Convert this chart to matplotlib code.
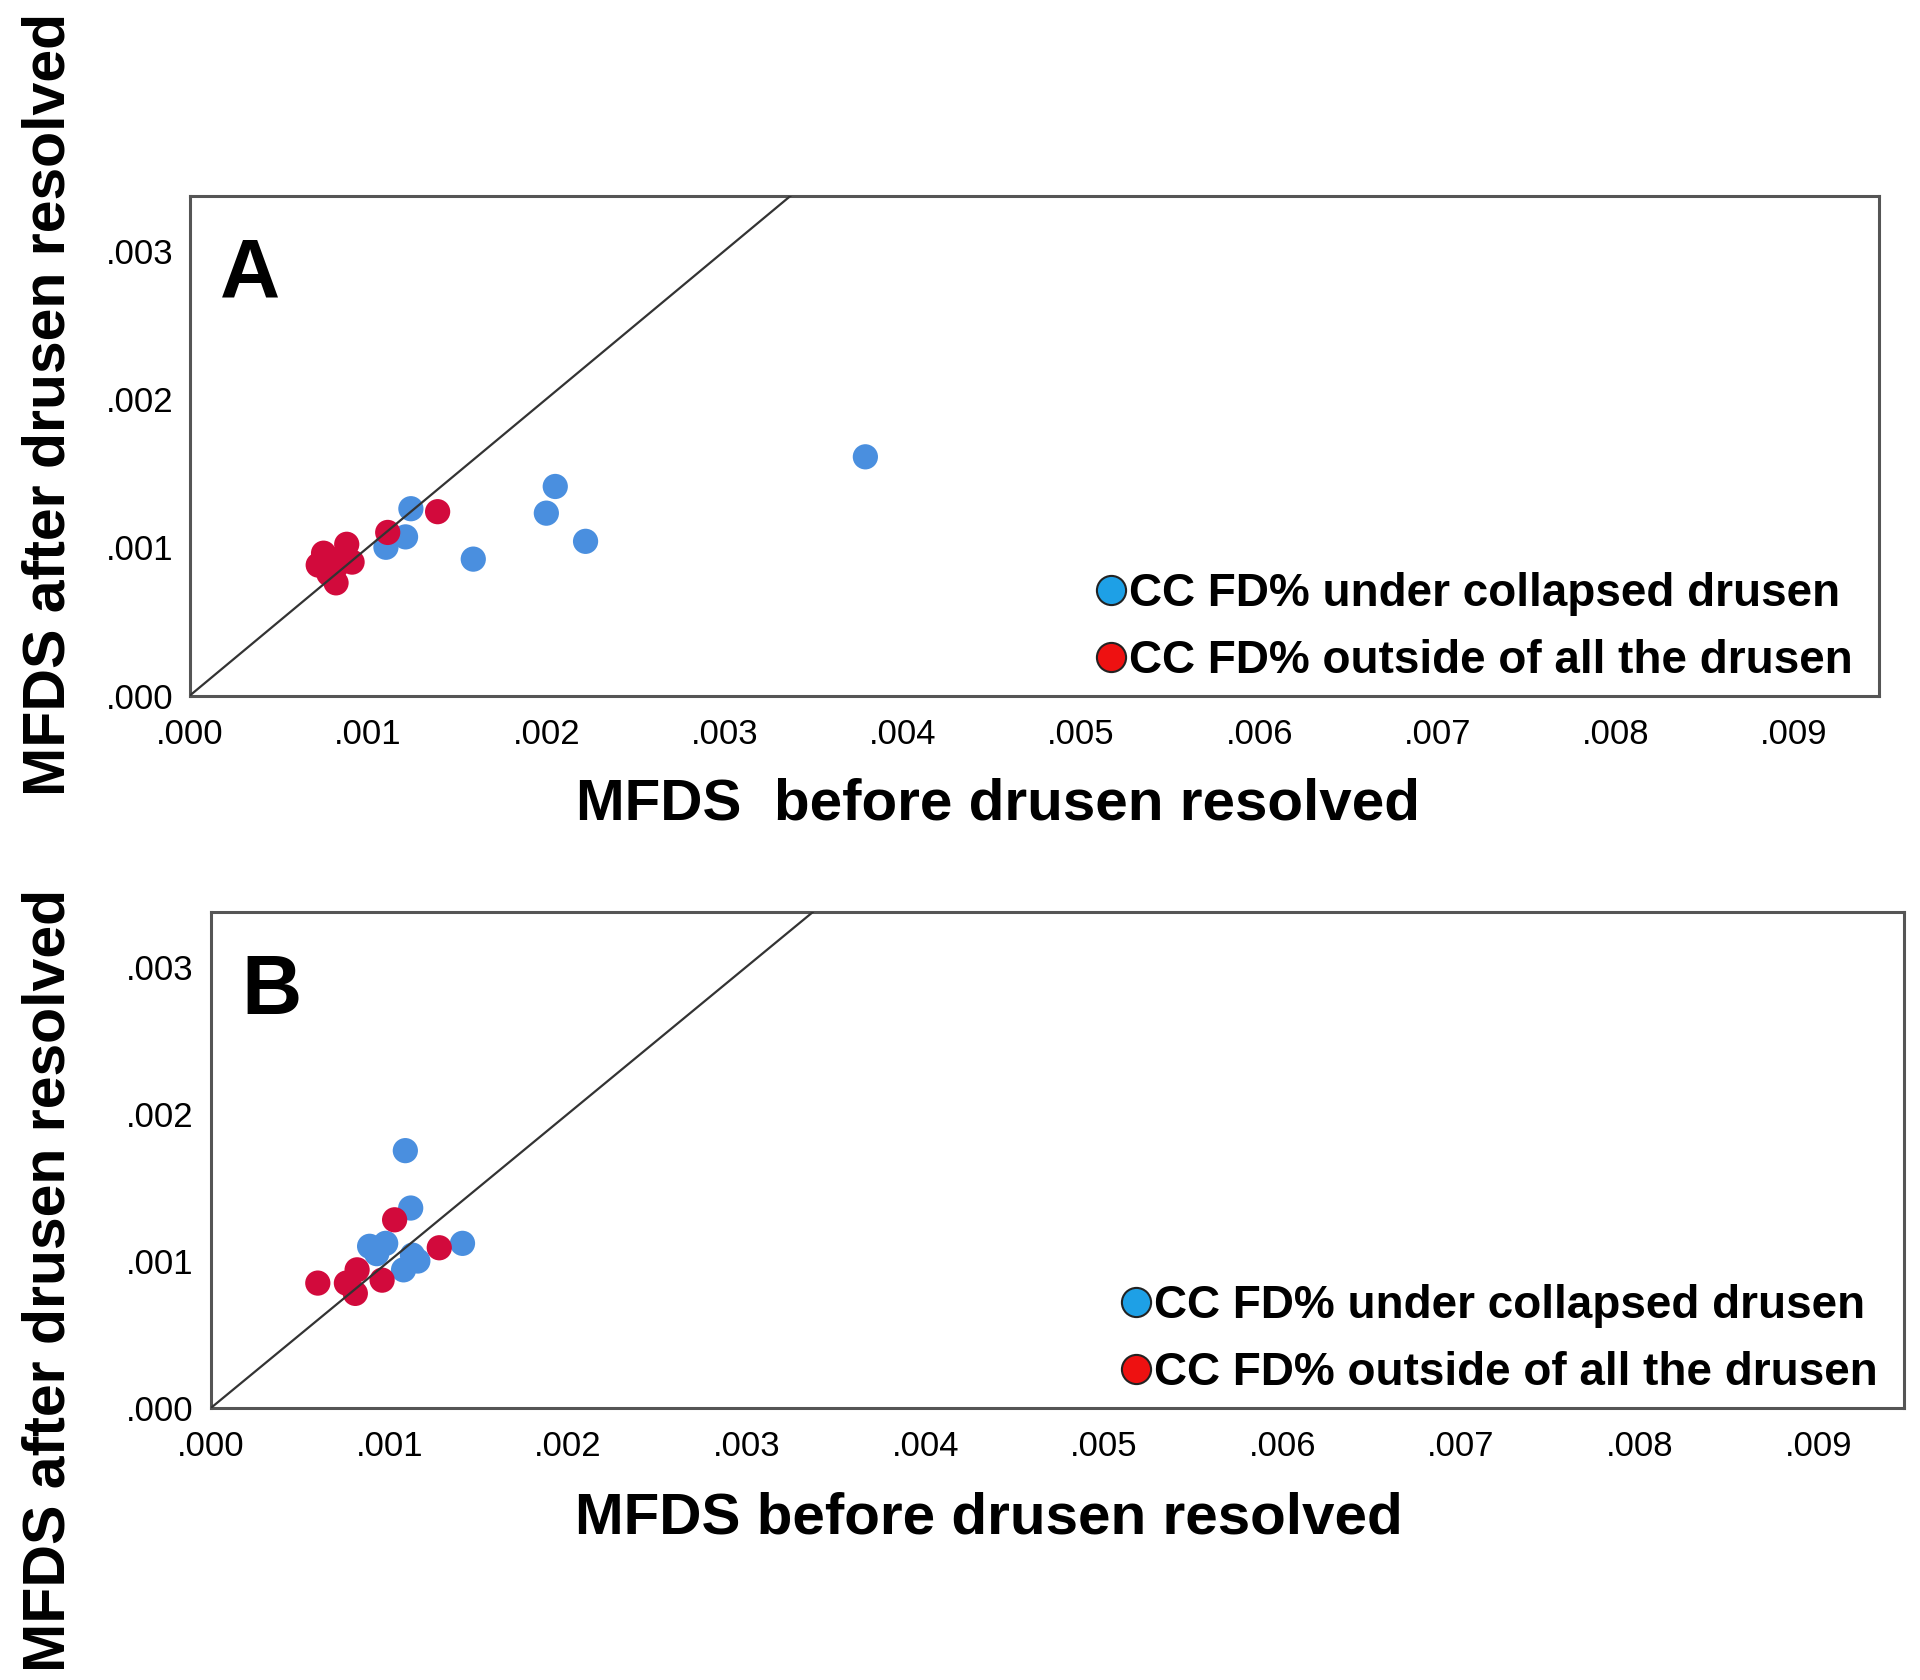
import matplotlib
matplotlib.use('Agg')
import matplotlib.pyplot as plt
from matplotlib.lines import Line2D

# ---- data ----
# panel A
a_blue_x=[0.00379,0.00205,0.00200,0.00222,0.00159,0.00124,0.00121,0.00110]
a_blue_y=[0.00161,0.00141,0.00123,0.00104,0.00092,0.00126,0.00107,0.00100]
a_red_x=[0.00139,0.00111,0.00075,0.00088,0.00091,0.00082,0.00072,0.00082,0.00078,0.00086]
a_red_y=[0.00124,0.00110,0.00096,0.00102,0.00090,0.00076,0.00088,0.00087,0.00082,0.00094]
# panel B
b_blue_x=[0.00109,0.00112,0.00141,0.00089,0.00098,0.00113,0.00108,0.00093,0.00116]
b_blue_y=[0.00175,0.00136,0.00112,0.00110,0.00112,0.00104,0.00094,0.00105,0.00100]
b_red_x=[0.00103,0.00128,0.00060,0.00082,0.00076,0.00096,0.00081]
b_red_y=[0.00128,0.00109,0.00085,0.00094,0.00085,0.00087,0.00078]

x_ticks=[0.000,0.001,0.002,0.003,0.004,0.005,0.006,0.007,0.008,0.009]
y_ticks=[0.000,0.001,0.002,0.003]
legend_labels=['CC FD% under collapsed drusen','CC FD% outside of all the drusen']

blue_pt='#4a8fdf'
red_pt='#d20a3c'
plt.rcParams['font.family']=['Liberation Sans','DejaVu Sans']

def fmt(v):
    return '{:.3f}'.format(v).lstrip('0')

fig=plt.figure(figsize=(19.2,16.8),dpi=100)

def panel(rect,bx,by,rx,ry,letter,xlab,xlab_pos,ylab_pos,leg_anchor):
    ax=fig.add_axes(rect)
    ax.scatter(bx,by,s=330,color=blue_pt,edgecolors='none',zorder=3)
    ax.scatter(rx,ry,s=330,color=red_pt,edgecolors='none',zorder=3)
    ax.axline((0,0),slope=1,color='#333333',lw=1.6,zorder=4)
    ax.set_xlim(0,0.00948)
    ax.set_ylim(0,0.00337)
    ax.set_xticks(x_ticks)
    ax.set_xticklabels([fmt(v) for v in x_ticks])
    ax.set_yticks(y_ticks)
    ax.set_yticklabels([fmt(v) for v in y_ticks])
    ax.tick_params(length=0,labelsize=25,pad=12)
    ax.tick_params(axis='x',pad=16)
    for s in ax.spines.values():
        s.set_color('#555555')
        s.set_linewidth(2.2)
    ax.text(0.018,0.84,letter,transform=ax.transAxes,fontsize=60,fontweight='bold',va='center')
    handles=[Line2D([],[],marker='o',ls='none',markersize=21,markerfacecolor='#1ea0e6',markeredgecolor='#222222',markeredgewidth=1.5),
             Line2D([],[],marker='o',ls='none',markersize=21,markerfacecolor='#ee1111',markeredgecolor='#222222',markeredgewidth=1.5)]
    ax.legend(handles,legend_labels,loc='lower right',bbox_to_anchor=leg_anchor,frameon=False,
              handlelength=0.6,handletextpad=0.1,labelspacing=0.5,borderpad=0,
              prop={'weight':'bold','size':33})
    fig.text(xlab_pos[0],xlab_pos[1],xlab,ha='center',va='center',fontsize=42,fontweight='bold')
    fig.text(ylab_pos[0],ylab_pos[1],'MFDS after drusen resolved',ha='center',va='center',
             rotation=90,fontsize=42.5,fontweight='bold')
    return ax

panel([0.0989,0.586,0.880,0.2974],a_blue_x,a_blue_y,a_red_x,a_red_y,'A',
      'MFDS  before drusen resolved',(0.52,1-804/1680),(0.0255,1-404/1680),(0.998,-0.02))
panel([0.1097,0.1618,0.882,0.2952],b_blue_x,b_blue_y,b_red_x,b_red_y,'B',
      'MFDS before drusen resolved',(0.515,1-1518/1680),(0.0255,1-1280/1680),(0.998,-0.02))

fig.savefig('out.png',dpi=100,facecolor='white')
